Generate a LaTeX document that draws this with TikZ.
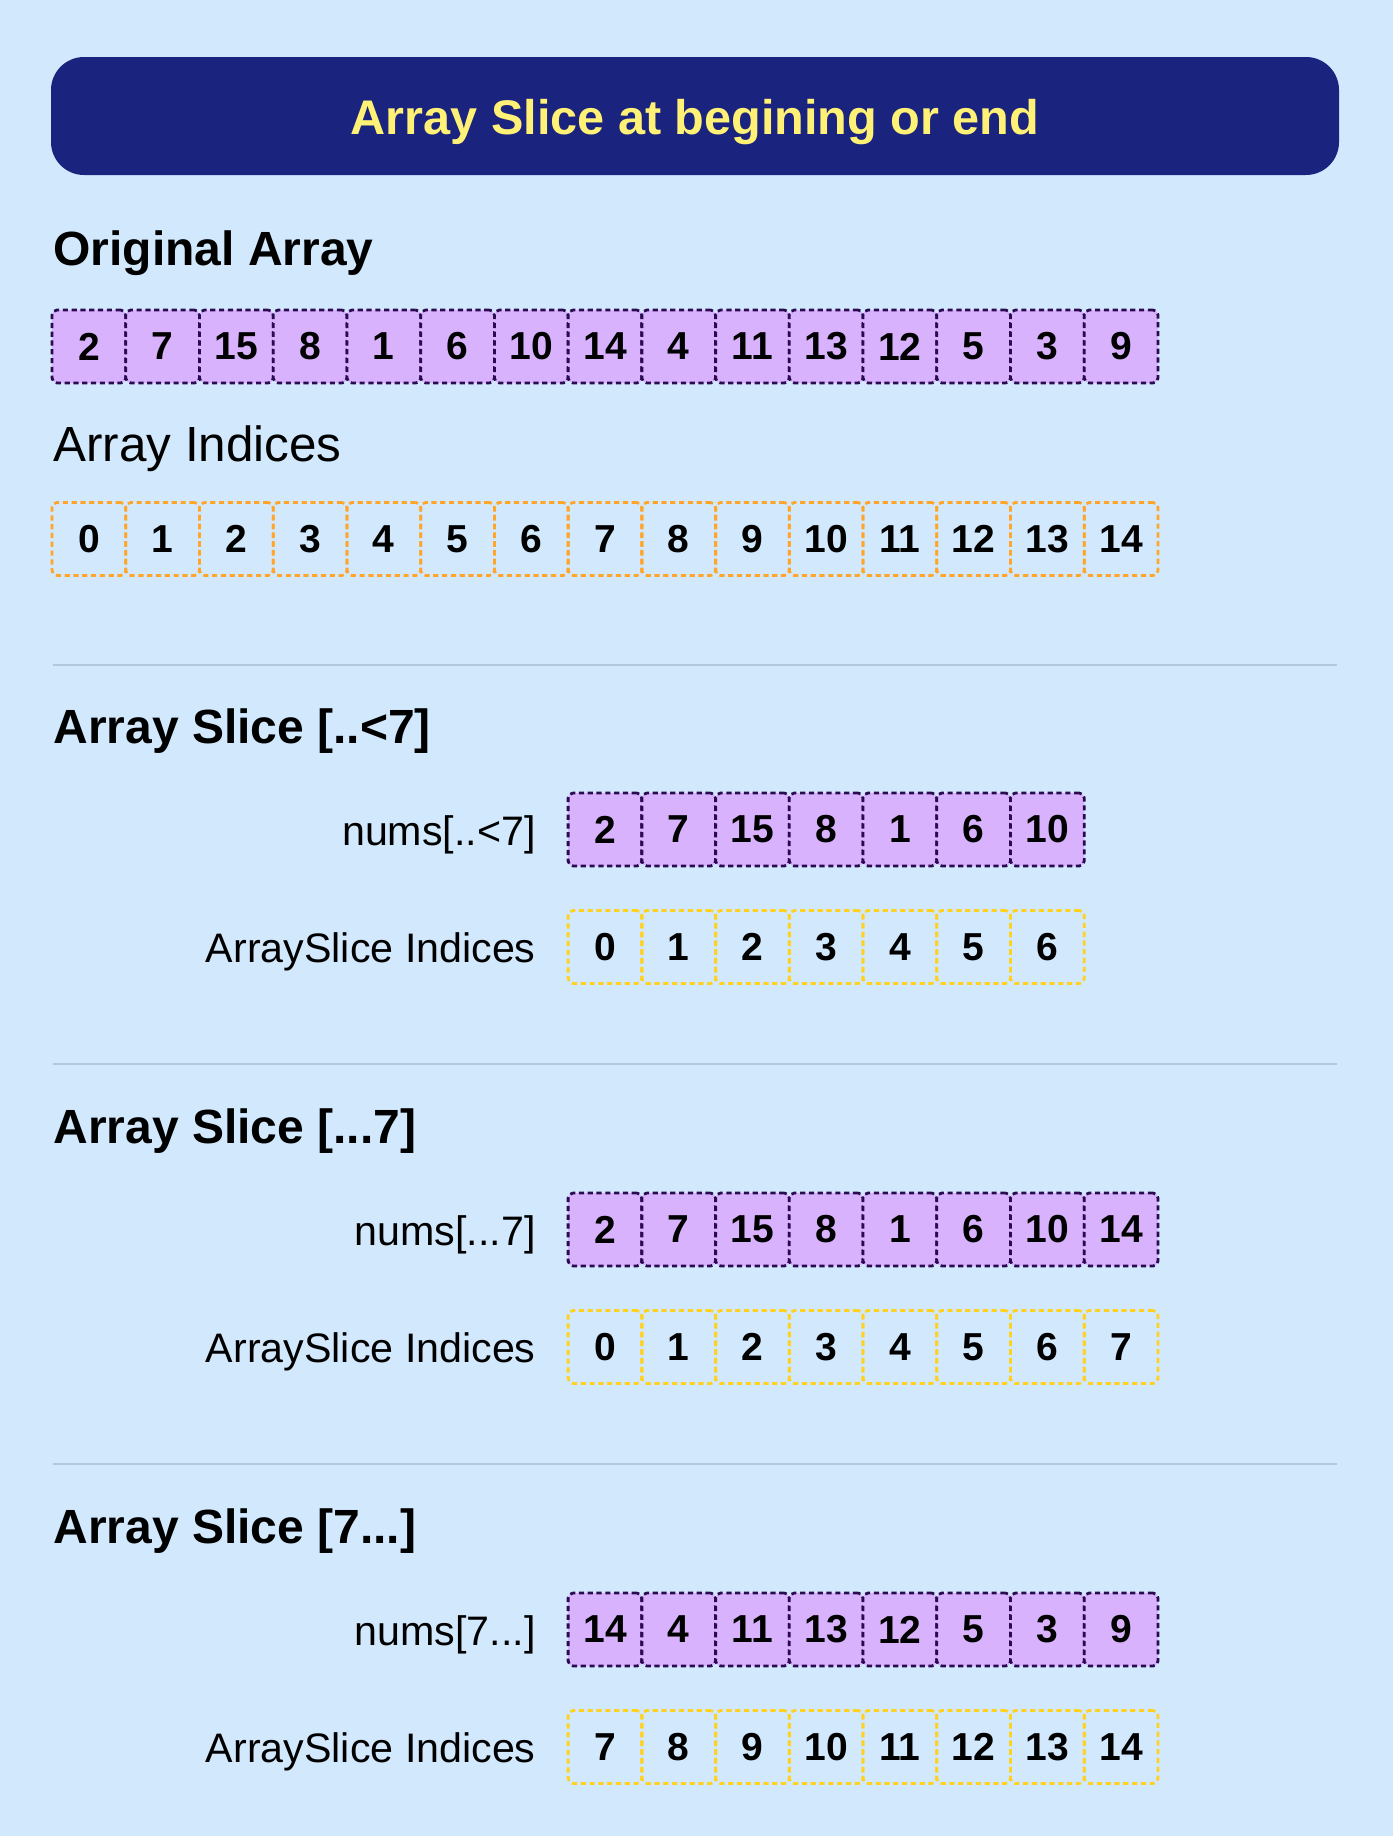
\documentclass[tikz,border=0pt]{standalone}
\usepackage{fontspec}
\setmainfont{Liberation Sans}
\usetikzlibrary{positioning}

\definecolor{pagebg}{HTML}{D2E8FD}
\definecolor{bannerblue}{HTML}{1A237E}
\definecolor{titleyellow}{HTML}{FFF176}
\definecolor{cellfill}{HTML}{D9B2FD}
\definecolor{celledge}{HTML}{2B0A52}
\definecolor{idxorange}{HTML}{FFA52A}
\definecolor{idxyellow}{HTML}{FFD21F}
\definecolor{rulegray}{HTML}{B4C8DC}

\tikzset{
  cellbase/.style={minimum width=36.87pt, minimum height=36.5pt, inner sep=0pt,
    line width=1.4pt, dash pattern=on 2.6pt off 1.8pt, rounded corners=2.5pt,
    font=\fontsize{19.5}{19.5}\selectfont\bfseries},
  valcell/.style={cellbase, draw=celledge, fill=cellfill},
  origidx/.style={cellbase, draw=idxorange},
  sliceidx/.style={cellbase, draw=idxyellow},
  banner/.style={fill=bannerblue, rounded corners=16.5pt, minimum width=644pt, minimum height=59pt, inner sep=0pt},
  titletext/.style={text=titleyellow, font=\fontsize{24.3}{24.3}\selectfont\bfseries, inner sep=0pt},
  heading/.style={font=\fontsize{24}{24}\selectfont\bfseries, inner sep=0pt, anchor=base west},
  subheading/.style={font=\fontsize{24.7}{25}\selectfont, inner sep=0pt, anchor=base west},
  rowlabel/.style={font=\fontsize{20.6}{21}\selectfont, inner sep=0pt, anchor=base east},
  sepline/.style={draw=rulegray, line width=0.6pt}
}

\begin{document}
\begin{tikzpicture}[x=0.5pt,y=-0.5pt]
  % page
  \fill[pagebg] (0,0) rectangle (1393,1836);
  \useasboundingbox (0,0) rectangle (1393,1836);

  % banner
  \node[banner] (banner) at (695,116) {};
  \node[titletext, anchor=base] (title) at (695,134) {Array Slice at begining or end};

  % original array
  \node[heading] (orighead) at (53,265) {Original Array};
  \foreach \v [count=\i from 0] in {2,7,15,8,1,6,10,14,4,11,13,12,5,3,9}
    \node[valcell] (origval\i) at ({88.9+73.73*\i},346.5) {\v};

  % indices
  \node[subheading] (idxhead) at (53,461) {Array Indices};
  \foreach \i in {0,...,14}
    \node[origidx] (origidx\i) at ({88.9+73.73*\i},539) {\i};

  \draw[sepline] (53,665) -- (1337,665);

  % slice [..<7]
  \node[heading] (uptohead) at (53,743) {Array Slice [..<7]};
  \node[rowlabel] (uptolabel) at (536,845) {nums[..<7]};
  \foreach \v [count=\i from 0] in {2,7,15,8,1,6,10}
    \node[valcell] (upto\i) at ({88.9+73.73*(\i+7)},829.5) {\v};
  \node[rowlabel] (uptoidxlabel) at (536,962) {ArraySlice Indices};
  \foreach \i in {0,...,6}
    \node[sliceidx] (uptoidx\i) at ({88.9+73.73*(\i+7)},947) {\i};

  \draw[sepline] (53,1064) -- (1337,1064);

  % slice [...7]
  \node[heading] (thruhead) at (53,1143) {Array Slice [...7]};
  \node[rowlabel] (thrulabel) at (536,1245) {nums[...7]};
  \foreach \v [count=\i from 0] in {2,7,15,8,1,6,10,14}
    \node[valcell] (thru\i) at ({88.9+73.73*(\i+7)},1229.5) {\v};
  \node[rowlabel] (thruidxlabel) at (536,1362) {ArraySlice Indices};
  \foreach \i in {0,...,7}
    \node[sliceidx] (thruidx\i) at ({88.9+73.73*(\i+7)},1347) {\i};

  \draw[sepline] (53,1464) -- (1337,1464);

  % slice [7...]
  \node[heading] (fromhead) at (53,1543) {Array Slice [7...]};
  \node[rowlabel] (fromlabel) at (536,1645) {nums[7...]};
  \foreach \v [count=\i from 0] in {14,4,11,13,12,5,3,9}
    \node[valcell] (from\i) at ({88.9+73.73*(\i+7)},1629.5) {\v};
  \node[rowlabel] (fromidxlabel) at (536,1762) {ArraySlice Indices};
  \foreach \v [count=\i from 0] in {7,...,14}
    \node[sliceidx] (fromidx\i) at ({88.9+73.73*(\i+7)},1747) {\v};
\end{tikzpicture}
\end{document}
